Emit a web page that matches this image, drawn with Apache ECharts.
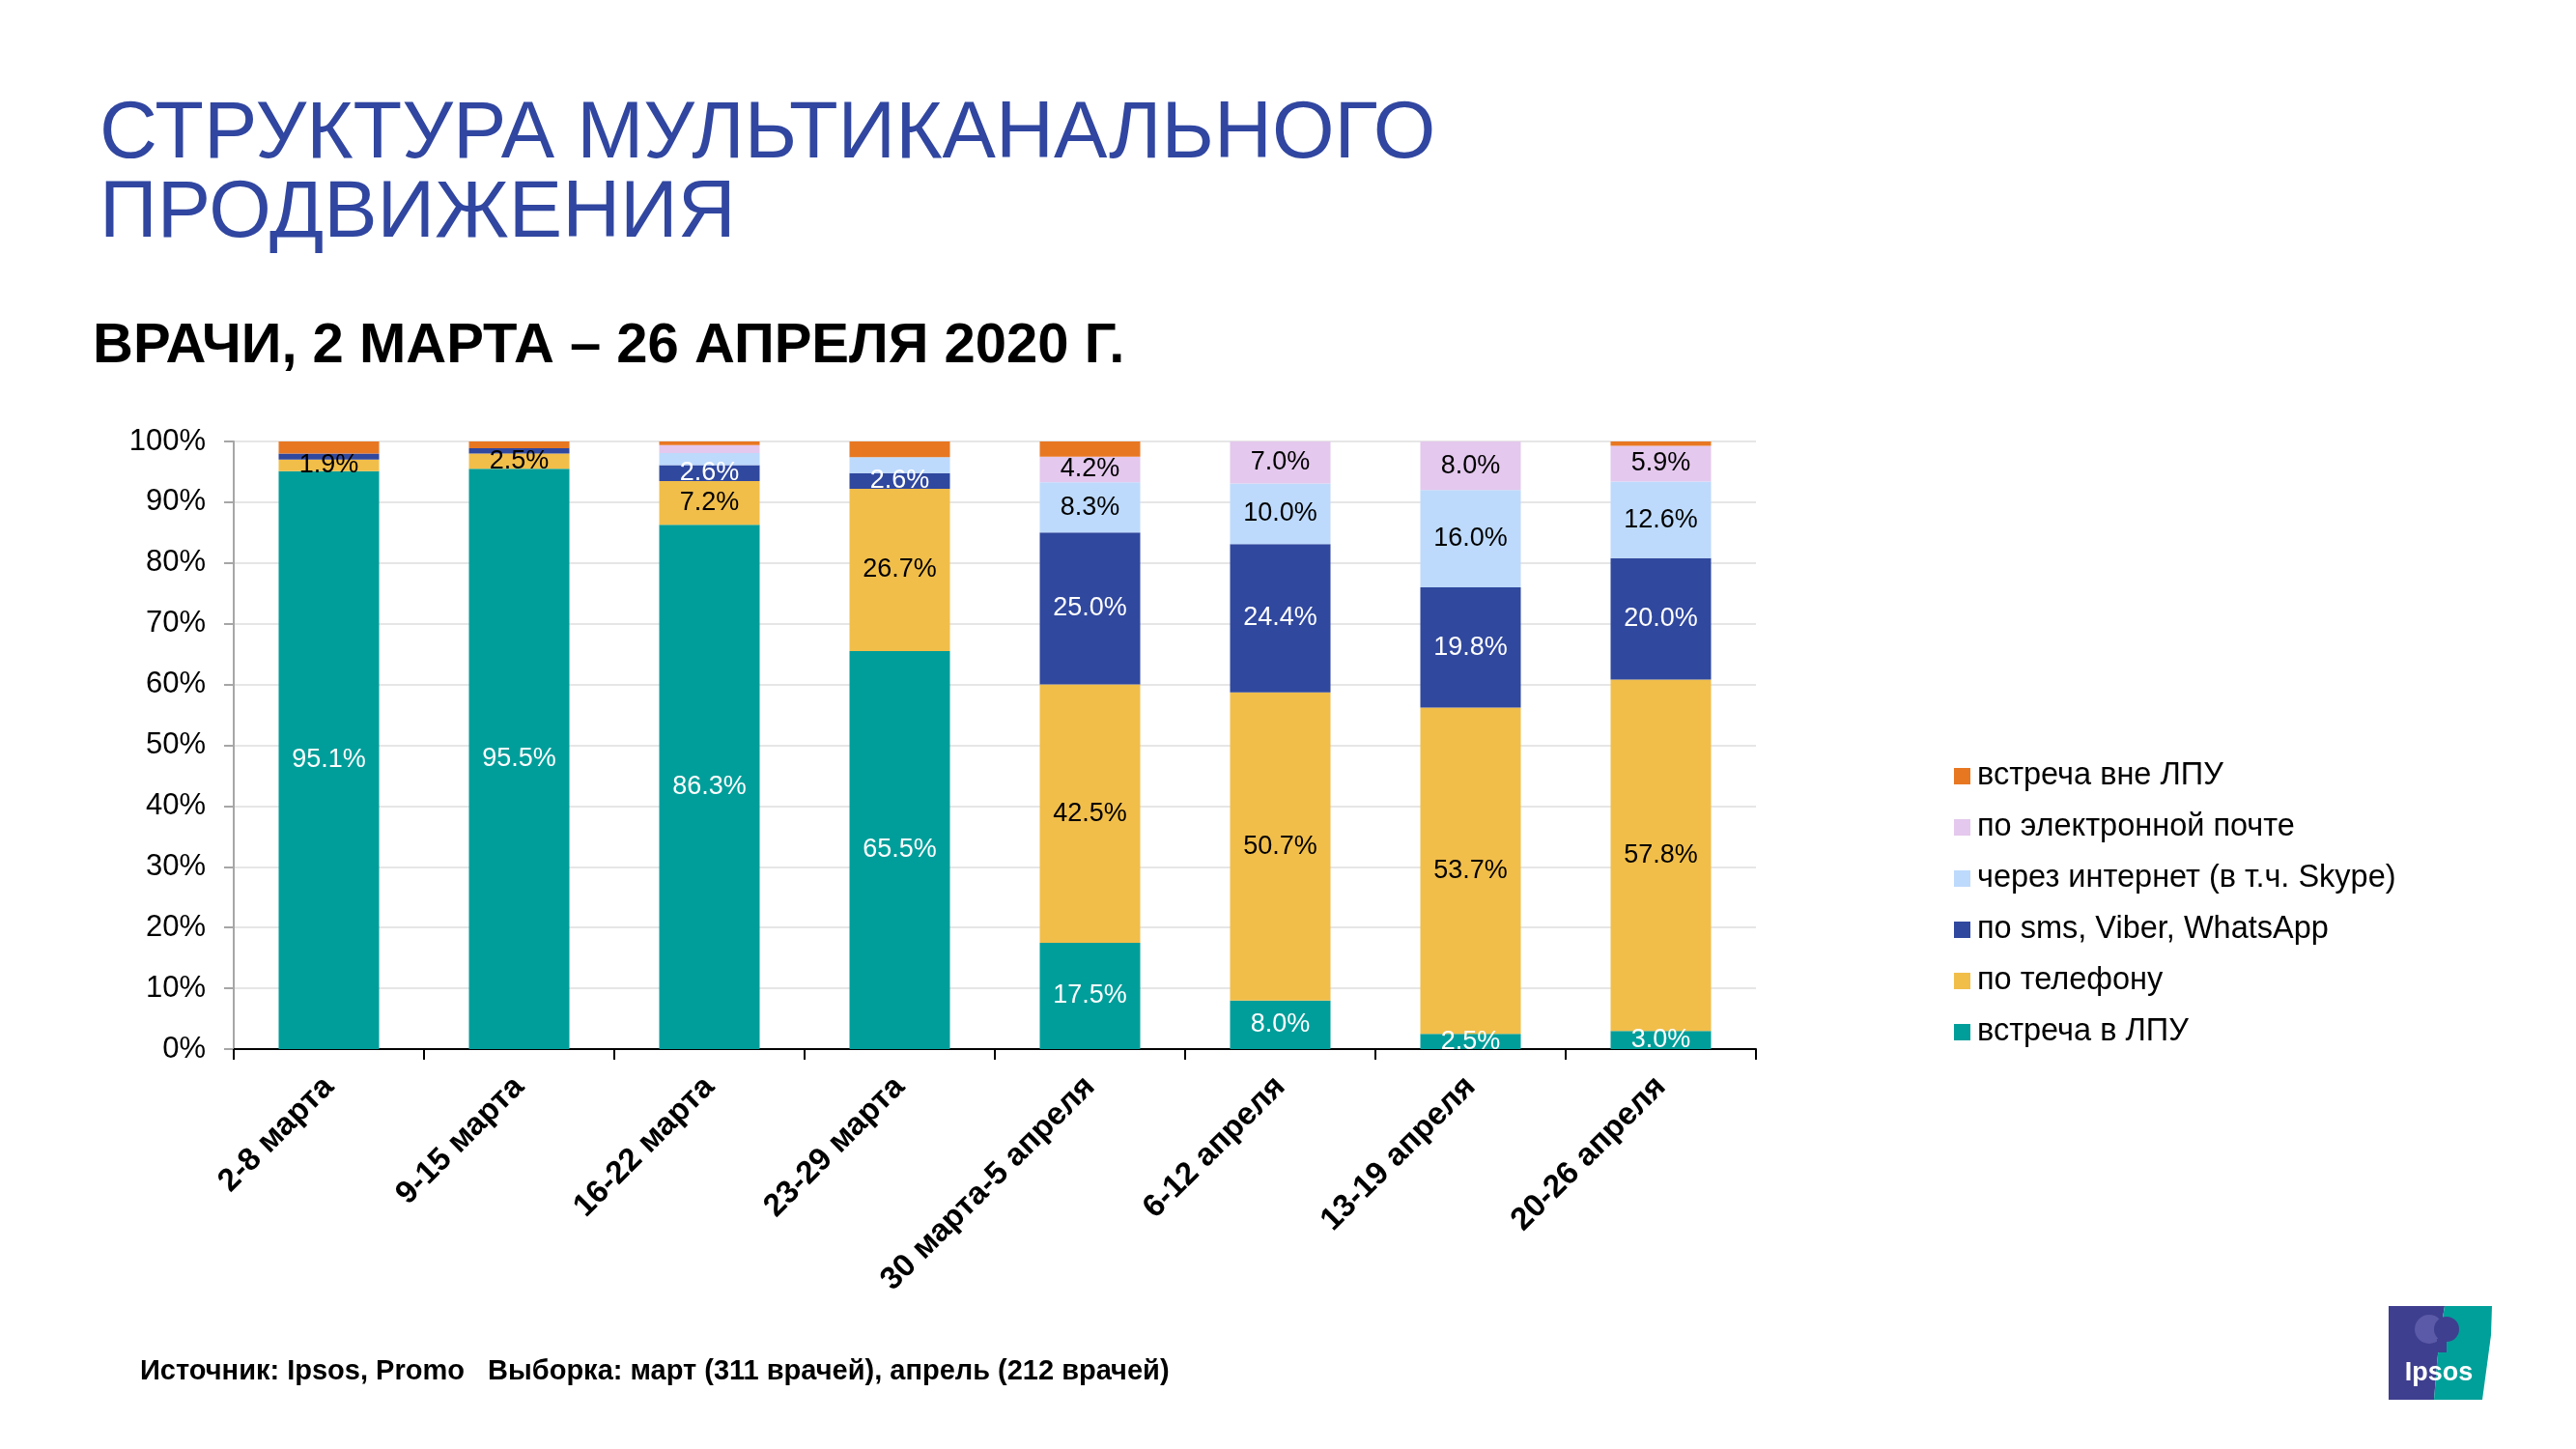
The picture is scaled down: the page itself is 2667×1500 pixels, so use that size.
<!DOCTYPE html>
<html>
<head>
<meta charset="utf-8">
<script src="https://cdn.jsdelivr.net/npm/echarts@6/dist/echarts.min.js"></script>
<style>
html,body{margin:0;padding:0;background:#fff;}
#chart{width:2667px;height:1500px;}
</style>
</head>
<body>
<div id="chart"></div>
<script>
const categories = ['2-8 марта','9-15 марта','16-22 марта','23-29 марта','30 марта-5 апреля','6-12 апреля','13-19 апреля','20-26 апреля'];
const seriesNames = ['встреча в ЛПУ','по телефону','по sms, Viber, WhatsApp','через интернет (в т.ч. Skype)','по электронной почте','встреча вне ЛПУ'];
const meetLPU     = [95.1, 95.5, 86.3, 65.5, 17.5,  8.0,  2.5,  3.0];
const phone       = [ 1.9,  2.5,  7.2, 26.7, 42.5, 50.7, 53.7, 57.8];
const sms         = [ 1.0,  0.9,  2.6,  2.6, 25.0, 24.4, 19.8, 20.0];
const internet    = [ 0.0,  0.0,  2.0,  2.6,  8.3, 10.0, 16.0, 12.6];
const email       = [ 0.0,  0.0,  1.3,  0.0,  4.2,  7.0,  8.0,  5.9];
const meetOutside = [ 2.0,  1.1,  0.6,  2.6,  2.5,  0.0,  0.0,  0.7];
const yTicks = [0,10,20,30,40,50,60,70,80,90,100];

const seriesData = [meetLPU, phone, sms, internet, email, meetOutside];
const colors = ['#009E9A','#F1BE4A','#30489E','#BDDAFC','#E4C8ED','#E87722'];
const labelColors = ['#ffffff','#000000','#ffffff','#000000','#000000','#000000'];
const labelMin = [1, 1, 2, 4, 4, 1000];

const FONT = '"Liberation Sans", Arial, Helvetica, sans-serif';

const chart = echarts.init(document.getElementById('chart'), null, {renderer:'canvas'});

const series = seriesData.map((arr, i) => ({
  name: seriesNames[i],
  type: 'bar',
  stack: 'total',
  barWidth: 104,
  data: arr,
  itemStyle: { color: colors[i] },
  label: {
    show: true,
    position: 'inside',
    color: labelColors[i],
    fontFamily: FONT,
    fontSize: 27,
    formatter: p => (p.value >= labelMin[i] ? p.value.toFixed(1) + '%' : '')
  },
  emphasis: { disabled: true }
}));

const option = {
  backgroundColor: '#ffffff',
  animation: false,
  grid: { left: 242, right: 849, top: 457, bottom: 414, containLabel: false },
  legend: {
    orient: 'vertical',
    left: 2018,
    top: 782,
    icon: 'rect',
    itemWidth: 17,
    itemHeight: 17,
    itemGap: 20,
    data: seriesNames.slice().reverse(),
    textStyle: { fontFamily: FONT, fontSize: 32.5, color: '#000', lineHeight: 33, padding: [0,0,0,2] }
  },
  xAxis: {
    type: 'category',
    data: categories,
    axisLine: { lineStyle: { color: '#000', width: 2 } },
    axisTick: { show: true, length: 11, lineStyle: { color: '#000', width: 2 } },
    axisLabel: {
      rotate: 45,
      interval: 0,
      margin: 34,
      fontFamily: FONT,
      fontSize: 33,
      fontWeight: 'bold',
      color: '#000'
    }
  },
  yAxis: {
    type: 'value',
    min: yTicks[0],
    max: yTicks[yTicks.length - 1],
    interval: 10,
    axisLine: { show: true, lineStyle: { color: '#A6A6A6', width: 2 } },
    axisTick: { show: true, length: 10, lineStyle: { color: '#A6A6A6', width: 2 } },
    splitLine: { show: true, lineStyle: { color: '#E6E6E6', width: 2 } },
    axisLabel: {
      formatter: '{value}%',
      margin: 29,
      fontFamily: FONT,
      fontSize: 31,
      color: '#000'
    }
  },
  series: series,
  graphic: [
    { type: 'text', left: 103, top: 99, style: { text: 'СТРУКТУРА МУЛЬТИКАНАЛЬНОГО', font: '83px ' + FONT, fill: '#3046A0' } },
    { type: 'text', left: 103, top: 181, style: { text: 'ПРОДВИЖЕНИЯ', font: '83px ' + FONT, fill: '#3046A0' } },
    { type: 'text', left: 96, top: 330, style: { text: 'ВРАЧИ, 2 МАРТА – 26 АПРЕЛЯ 2020 Г.', font: 'bold 58px ' + FONT, fill: '#000' } },
    { type: 'text', left: 145, top: 1405, style: { text: 'Источник: Ipsos, Promo   Выборка: март (311 врачей), апрель (212 врачей)', font: 'bold 29px ' + FONT, fill: '#000' } },
    {
      type: 'group', left: 2473, top: 1352,
      children: [
        { type: 'polygon', shape: { points: [[0,0],[58,0],[53,30],[50,60],[47,97],[0,97]] }, style: { fill: '#3F3F8F' } },
        { type: 'polygon', shape: { points: [[58,0],[107,0],[106,30],[102,60],[97,97],[47,97],[50,60],[53,30]] }, style: { fill: '#00A09A' } },
        { type: 'circle', shape: { cx: 42, cy: 24, r: 15 }, style: { fill: '#5A5AA8' } },
        { type: 'circle', shape: { cx: 60, cy: 24, r: 13 }, style: { fill: '#3F3F8F' } },
        { type: 'rect', shape: { x: 50, y: 34, width: 10, height: 14 }, style: { fill: '#3F3F8F' } },
        { type: 'text', x: 52, y: 70, style: { text: 'Ipsos', font: 'bold 27px ' + FONT, fill: '#ffffff', align: 'center', verticalAlign: 'middle' } }
      ]
    }
  ]
};
chart.setOption(option);
</script>
</body>
</html>
